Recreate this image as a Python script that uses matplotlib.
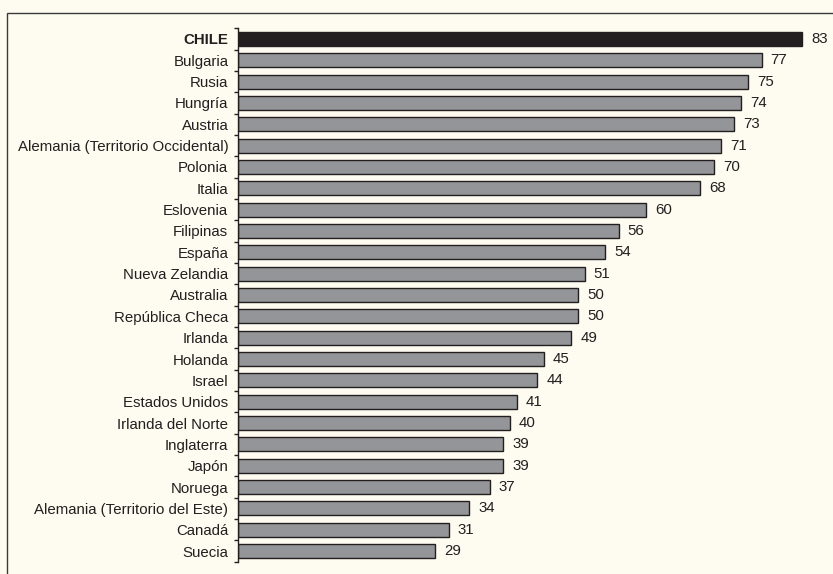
import matplotlib
matplotlib.use("Agg")
import matplotlib.pyplot as plt
from matplotlib.patches import Rectangle
import numpy as np

countries = ["CHILE", "Bulgaria", "Rusia", "Hungría", "Austria",
             "Alemania (Territorio Occidental)", "Polonia", "Italia", "Eslovenia",
             "Filipinas", "España", "Nueva Zelandia", "Australia", "República Checa",
             "Irlanda", "Holanda", "Israel", "Estados Unidos", "Irlanda del Norte",
             "Inglaterra", "Japón", "Noruega", "Alemania (Territorio del Este)",
             "Canadá", "Suecia"]
values = [83, 77, 75, 74, 73, 71, 70, 68, 60, 56, 54, 51, 50, 50, 49, 45, 44,
          41, 40, 39, 39, 37, 34, 31, 29]

BG = "#fefcf0"
DARK = "#231f20"
GRAY = "#939598"
FS = 10.8

plt.rcParams['font.family'] = ['Liberation Sans', 'DejaVu Sans']

fig = plt.figure(figsize=(8.33, 5.74), dpi=100)
fig.patch.set_facecolor(BG)

# outer frame (right/bottom edges fall outside the image)
fig.patches.append(Rectangle((7/833, -0.05), 1.0, 1 - 13/574 + 0.05,
                             transform=fig.transFigure, fill=False,
                             edgecolor="#3a3a3a", linewidth=1.0))

ax = fig.add_axes([238/833, 1 - 561.7/574, 1 - 238/833, (561.7 - 28.3)/574])
ax.set_facecolor(BG)

y = np.arange(len(countries))
colors = [DARK if i == 0 else GRAY for i in range(len(countries))]
ax.barh(y, values, height=0.66, color=colors, edgecolor=DARK, linewidth=1.0)

ax.set_ylim(len(countries) - 0.5, -0.5)
ax.set_xlim(0, 595/6.8)

for i, v in enumerate(values):
    ax.annotate(str(v), (v, i), xytext=(6.5, 0), textcoords="offset points",
                va="center", ha="left", fontsize=FS, color=DARK)

ax.set_yticks(y)
ax.set_yticklabels(countries)
for i, lab in enumerate(ax.get_yticklabels()):
    lab.set_fontsize(FS)
    lab.set_color(DARK)
    if i == 0:
        lab.set_fontweight("bold")
ax.tick_params(axis="y", which="major", length=0, pad=7)
ax.set_yticks(np.arange(-0.5, len(countries)), minor=True)
ax.tick_params(axis="y", which="minor", length=3, width=1, color=DARK, direction="out")

ax.set_xticks([])
for s in ["top", "right", "bottom"]:
    ax.spines[s].set_visible(False)
ax.spines["left"].set_color(DARK)
ax.spines["left"].set_linewidth(1.0)

fig.savefig("out.png", dpi=100, facecolor=BG)
